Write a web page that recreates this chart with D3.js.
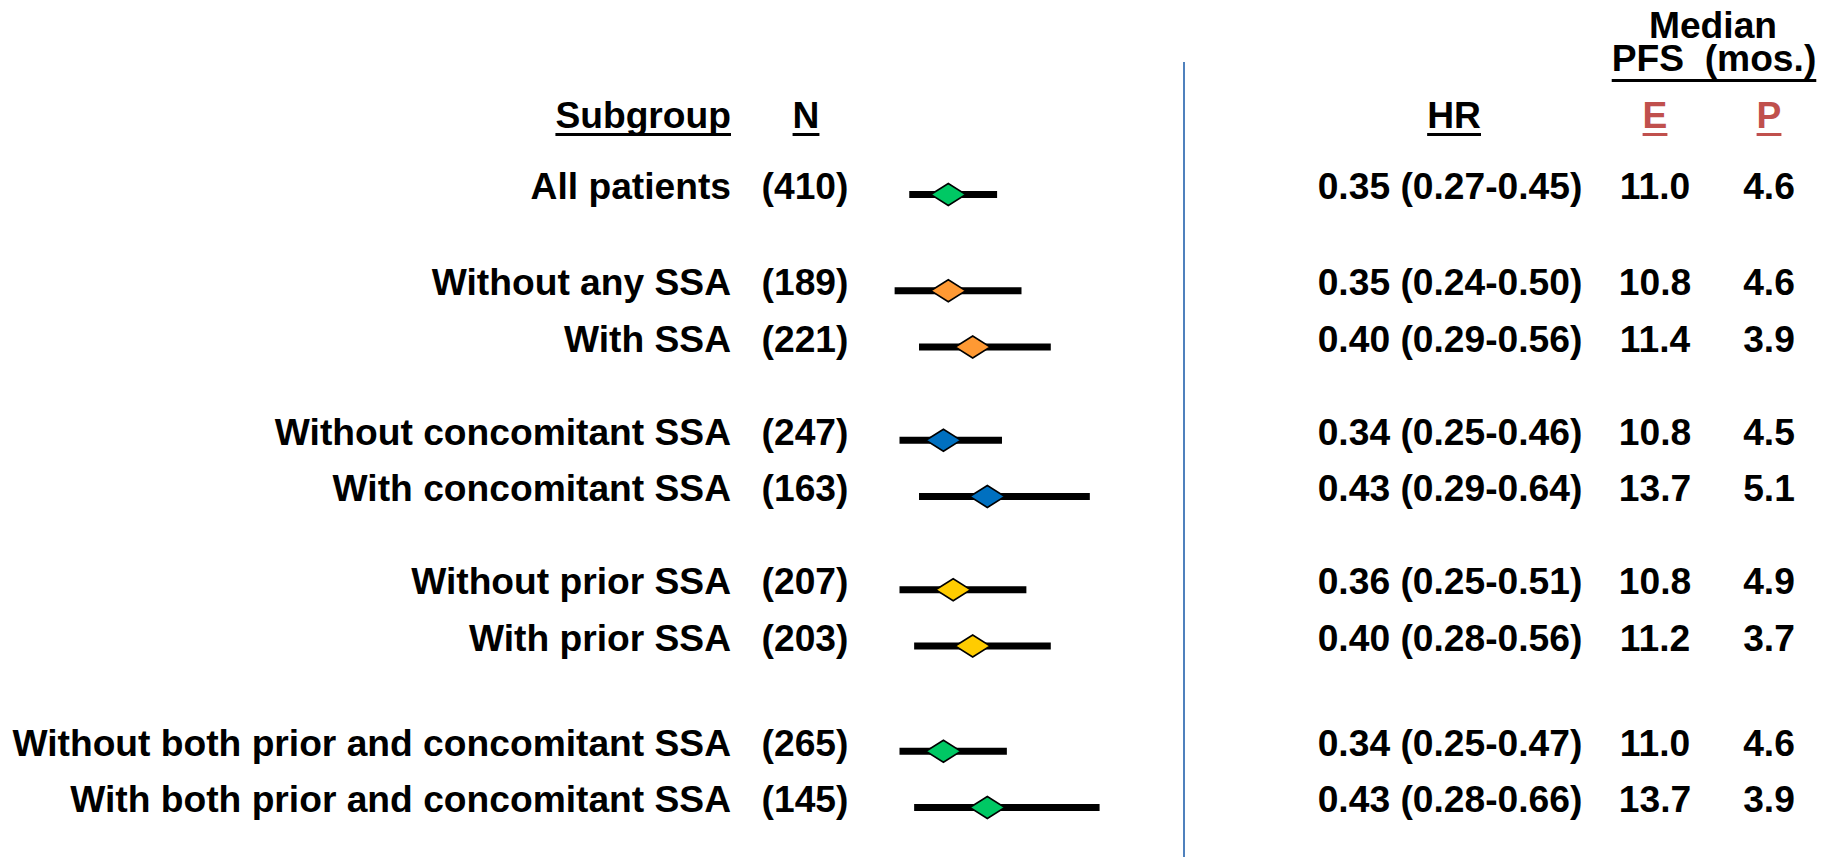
<!DOCTYPE html>
<html>
<head>
<meta charset="utf-8">
<title>PFS subgroup forest plot</title>
<script src="https://cdn.jsdelivr.net/npm/d3@7"></script>
<style>
    html, body { margin: 0; padding: 0; background: #fff; }
    #chart text { font-family: "Liberation Sans", Arial, sans-serif; font-weight: bold; font-size: 37.2px; fill: #000; white-space: pre; }
</style>
</head>
<body>
<div id="chart"></div>
<script>
// Subgroup data
const subgroups = [
    'All patients',
    'Without any SSA',
    'With SSA',
    'Without concomitant SSA',
    'With concomitant SSA',
    'Without prior SSA',
    'With prior SSA',
    'Without both prior and concomitant SSA',
    'With both prior and concomitant SSA'
];
const groups = [0, 1, 1, 2, 2, 3, 3, 4, 4];
const patients = [410, 189, 221, 247, 163, 207, 203, 265, 145];
const hr = [0.35, 0.35, 0.40, 0.34, 0.43, 0.36, 0.40, 0.34, 0.43];
const hrLow = [0.27, 0.24, 0.29, 0.25, 0.29, 0.25, 0.28, 0.25, 0.28];
const hrHigh = [0.45, 0.50, 0.56, 0.46, 0.64, 0.51, 0.56, 0.47, 0.66];
const pfsE = ['11.0', '10.8', '11.4', '10.8', '13.7', '10.8', '11.2', '11.0', '13.7'];
const pfsP = ['4.6', '4.6', '3.9', '4.5', '5.1', '4.9', '3.7', '4.6', '3.9'];
const groupColors = ['#00c864', '#ff9933', '#0070c0', '#ffcc00', '#00c864'];

const rows = subgroups.map((name, i) => ({
    name: name,
    group: groups[i],
    n: patients[i],
    hr: hr[i],
    lo: hrLow[i],
    hi: hrHigh[i],
    e: pfsE[i],
    p: pfsP[i]
}));

// Layout
const width = 1833;
const height = 857;
const rowStep = 56.25;
const groupGap = [0, 40, 77, 114, 163]; // cumulative extra space before each group
const rowTop = 194.5;
const rowY = (d, i) => rowTop + i * rowStep + groupGap[d.group];

const col = { label: 731, n: 805, hr: 1450, e: 1655, p: 1769 };
const divider = 1184;

// HR axis (linear, no drawn axis)
const x = d3.scaleLinear()
    .domain([0, 1])
    .range([777.5, 1265.5]);

const svg = d3.select('#chart')
    .append('svg')
    .attr('width', width)
    .attr('height', height);

// Divider line
svg.append('line')
    .attr('x1', divider)
    .attr('x2', divider)
    .attr('y1', 62)
    .attr('y2', height)
    .attr('stroke', '#4f81bd')
    .attr('stroke-width', 2);

// Header text helper, with an underline drawn from the text box
function header(txt, cx, y, anchor, color, underline) {
    const t = svg.append('text')
        .attr('x', cx)
        .attr('y', y)
        .attr('text-anchor', anchor)
        .style('fill', color || '#000')
        .text(txt);
    if (underline) {
        const b = t.node().getBBox();
        svg.append('rect')
            .attr('x', b.x)
            .attr('y', underline)
            .attr('width', b.width)
            .attr('height', 3)
            .attr('fill', color || '#000');
    }
    return t;
}

header('Subgroup', col.label, 128, 'end', null, 133);
header('N', col.n + 1, 128, 'middle', null, 133);
header('HR', col.hr + 4, 128, 'middle', null, 133);
header('E', col.e, 128, 'middle', '#c0504d', 133);
header('P', col.p, 128, 'middle', '#c0504d', 133);
header('Median', 1713, 38, 'middle');
header('PFS  (mos.)', 1714, 71, 'middle', null, 79);

// Rows
const row = svg.selectAll('.row')
    .data(rows)
    .enter()
    .append('g')
    .attr('class', 'row')
    .attr('transform', (d, i) => `translate(0, ${rowY(d, i)})`);

row.append('text')
    .attr('x', col.label)
    .attr('y', 4.5)
    .attr('text-anchor', 'end')
    .text(d => d.name);

row.append('text')
    .attr('x', col.n)
    .attr('y', 4.5)
    .attr('text-anchor', 'middle')
    .text(d => `(${d.n})`);

row.append('text')
    .attr('x', col.hr)
    .attr('y', 4.5)
    .attr('text-anchor', 'middle')
    .text(d => `${d.hr.toFixed(2)} (${d.lo.toFixed(2)}-${d.hi.toFixed(2)})`);

row.append('text')
    .attr('x', col.e)
    .attr('y', 4.5)
    .attr('text-anchor', 'middle')
    .text(d => d.e);

row.append('text')
    .attr('x', col.p)
    .attr('y', 4.5)
    .attr('text-anchor', 'middle')
    .text(d => d.p);

// Confidence interval bars
row.append('rect')
    .attr('x', d => x(d.lo))
    .attr('y', -3.5)
    .attr('width', d => x(d.hi) - x(d.lo))
    .attr('height', 7)
    .attr('fill', '#000');

// HR diamonds
const dw = 17.5, dh = 11;
row.append('path')
    .attr('d', d => {
        const cx = x(d.hr);
        return `M${cx - dw},0L${cx},${-dh}L${cx + dw},0L${cx},${dh}Z`;
    })
    .attr('fill', d => groupColors[d.group])
    .attr('stroke', '#000')
    .attr('stroke-width', 1.5)
    .attr('stroke-linejoin', 'miter');
</script>
</body>
</html>
